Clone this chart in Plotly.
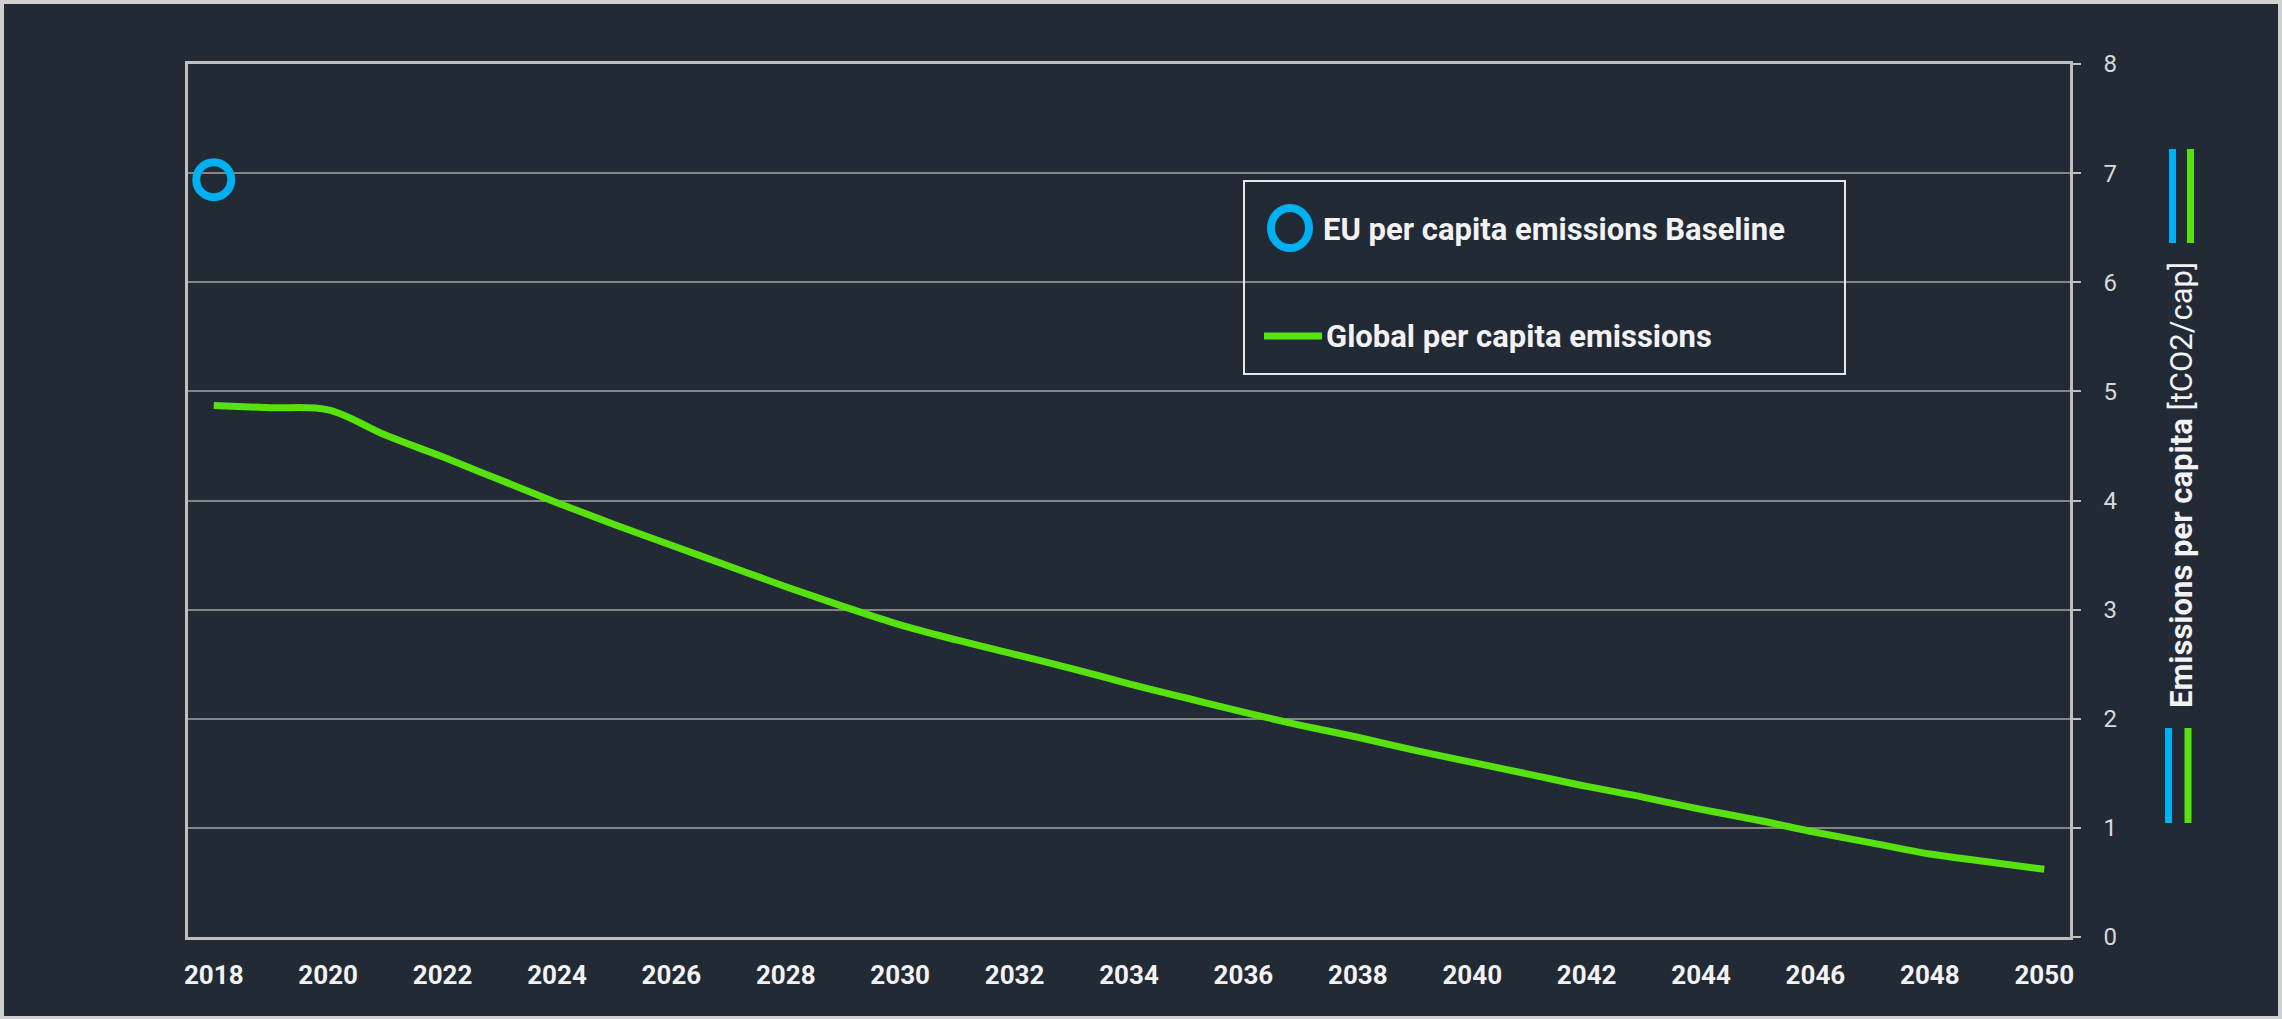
import plotly.graph_objects as go

# data
years = list(range(2018, 2051))
global_pc = [4.87, 4.85, 4.83, 4.60, 4.40, 4.19, 3.98, 3.78, 3.59, 3.40,
             3.21, 3.03, 2.86, 2.72, 2.59, 2.46, 2.32, 2.19, 2.06, 1.94,
             1.83, 1.71, 1.60, 1.49, 1.38, 1.28, 1.17, 1.07, 0.96, 0.86,
             0.76, 0.69, 0.62]
eu_year = [2018]
eu_baseline = [6.94]
x_ticks = list(range(2018, 2051, 2))
y_ticks = list(range(0, 9))

name_eu = "EU per capita emissions Baseline"
name_global = "Global per capita emissions"
y_title = "<b>Emissions per capita</b> [tCO2/cap]"

# colours
BG = "#222A35"
GREEN = "#57E10E"
BLUE = "#00B0F0"
GRID = "#858585"
AXIS = "#BFBFBF"
FONT = "Roboto"

W, H = 2282, 1019
L, R, T, B = 188, 212, 64, 82
pw, ph = W - L - R, H - T - B


def px(x):
    return (x - L) / pw


def py(y):
    return (H - B - y) / ph


fig = go.Figure()

fig.add_trace(go.Scatter(
    x=years, y=global_pc,
    mode="lines",
    line=dict(color=GREEN, width=7, shape="spline", smoothing=1),
    name=name_global,
    showlegend=False
))

fig.add_trace(go.Scatter(
    x=eu_year, y=eu_baseline,
    mode="markers",
    marker=dict(symbol="circle-open", size=35, color=BLUE,
                line=dict(color=BLUE, width=8)),
    name=name_eu,
    showlegend=False
))

shapes = [
    # outer frame
    dict(type="rect", xref="paper", yref="paper",
         x0=px(2), x1=px(W - 2), y0=py(H - 1), y1=py(2),
         line=dict(color="#D0D0D0", width=4), layer="below"),
    # legend box
    dict(type="rect", xref="paper", yref="paper",
         x0=px(1244), x1=px(1845), y0=py(374), y1=py(181),
         line=dict(color="#E6E6E6", width=2)),
    # legend circle
    dict(type="circle", xref="paper", yref="paper",
         x0=px(1290 - 19), x1=px(1290 + 19), y0=py(228 + 20), y1=py(228 - 20),
         line=dict(color=BLUE, width=8)),
    # legend line sample
    dict(type="line", xref="paper", yref="paper",
         x0=px(1264), x1=px(1322), y0=py(336), y1=py(336),
         line=dict(color=GREEN, width=7)),
]

# coloured key bars beside the axis title
for (xb, xg, y0, y1) in [(2172.5, 2190.5, 149, 243), (2168.5, 2188, 728, 823)]:
    shapes.append(dict(type="line", xref="paper", yref="paper",
                       x0=px(xb), x1=px(xb), y0=py(y1), y1=py(y0),
                       line=dict(color=BLUE, width=7)))
    shapes.append(dict(type="line", xref="paper", yref="paper",
                       x0=px(xg), x1=px(xg), y0=py(y1), y1=py(y0),
                       line=dict(color=GREEN, width=7)))

annotations = [
    dict(text="<b>" + name_eu + "</b>", xref="paper", yref="paper",
         x=px(1321), y=py(229), xanchor="left", yanchor="middle",
         showarrow=False, font=dict(family=FONT, size=31, color="#F2F2F2")),
    dict(text="<b>" + name_global + "</b>", xref="paper", yref="paper",
         x=px(1324), y=py(336), xanchor="left", yanchor="middle",
         showarrow=False, font=dict(family=FONT, size=31, color="#F2F2F2")),
    dict(text=y_title, xref="paper", yref="paper",
         x=px(2182), y=py(485), xanchor="center", yanchor="middle",
         textangle=-90, showarrow=False,
         font=dict(family=FONT, size=31, color="#F2F2F2")),
]

fig.update_layout(
    width=W, height=H,
    margin=dict(l=L, r=R, t=T, b=B, pad=0),
    paper_bgcolor=BG,
    plot_bgcolor=BG,
    showlegend=False,
    shapes=shapes,
    annotations=annotations,
    xaxis=dict(
        range=[2017.55, 2050.45],
        tickvals=x_ticks,
        showgrid=False, zeroline=False,
        showline=True, linecolor=AXIS, linewidth=2.5, mirror=True,
        ticks="", ticklabelstandoff=13,
        tickfont=dict(family=FONT, size=26, color="#F2F2F2", weight="bold"),
    ),
    yaxis=dict(
        range=[0, 8],
        tickvals=y_ticks,
        side="right",
        showgrid=True, gridcolor=GRID, gridwidth=2,
        zeroline=False,
        showline=True, linecolor=AXIS, linewidth=2.5, mirror=True,
        ticks="outside", ticklen=8, tickwidth=2, tickcolor=AXIS,
        ticklabelstandoff=18,
        tickfont=dict(family=FONT, size=24, color="#D9D9D9"),
    ),
)

fig.write_html("out.html", config={"displayModeBar": False},
               post_script="document.body.style.margin='0';")
